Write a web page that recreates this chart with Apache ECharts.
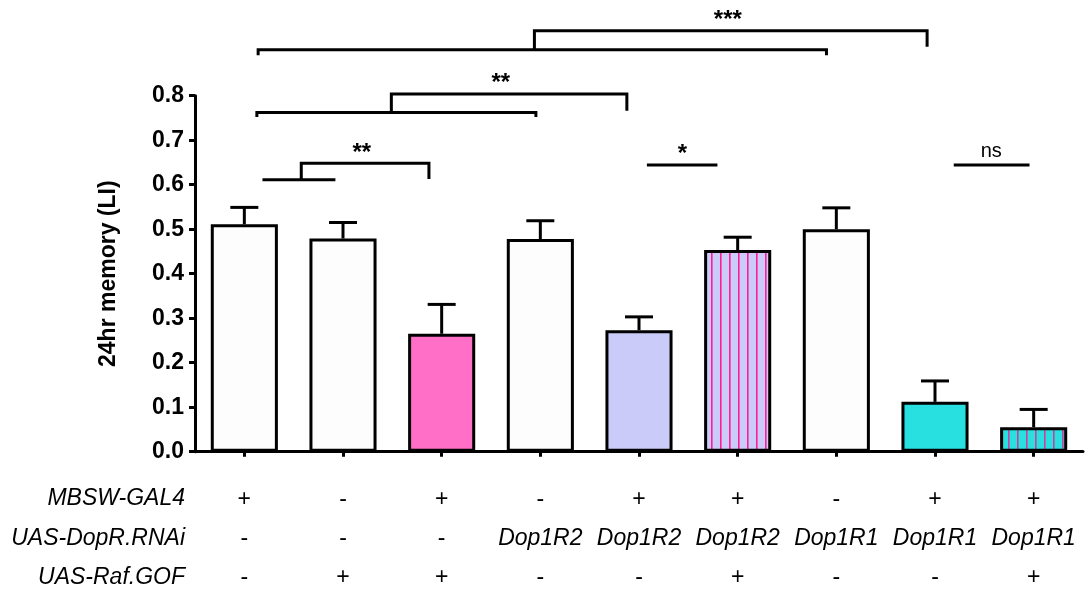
<!DOCTYPE html>
<html>
<head>
<meta charset="utf-8">
<script src="https://cdn.jsdelivr.net/npm/echarts@6/dist/echarts.min.js"></script>
<style>
html,body{margin:0;padding:0;background:#fff;}
#chart{width:1091px;height:593px;}
</style>
</head>
<body>
<div id="chart"></div>
<script>
// ---- data ----
var categories = ['G1','G2','G3','G4','G5','G6','G7','G8','G9'];
var means  = [0.511, 0.479, 0.265, 0.478, 0.273, 0.453, 0.500, 0.112, 0.055];
var sems   = [0.038, 0.036, 0.066, 0.041, 0.030, 0.029, 0.048, 0.047, 0.040];
var rowGal4 = ['+','-','+','-','+','+','-','+','+'];
var rowRnai = ['-','-','-','Dop1R2','Dop1R2','Dop1R2','Dop1R1','Dop1R1','Dop1R1'];
var rowRaf  = ['-','+','+','-','-','+','-','-','+'];
var rowNames = ['MBSW-GAL4','UAS-DopR.RNAi','UAS-Raf.GOF'];
var yTicks = [0,0.1,0.2,0.3,0.4,0.5,0.6,0.7,0.8];
// significance brackets: polylines in (category index, value) units
var brackets = [
  [[0.14,0.891],[0.14,0.903],[5.90,0.903],[5.90,0.891]],
  [[2.94,0.903],[2.94,0.946],[6.92,0.946],[6.92,0.910]],
  [[0.127,0.752],[0.127,0.762],[2.955,0.762],[2.955,0.752]],
  [[1.49,0.762],[1.49,0.804],[3.877,0.804],[3.877,0.766]],
  [[0.184,0.611],[0.923,0.611]],
  [[0.577,0.611],[0.577,0.648],[1.871,0.648],[1.871,0.613]],
  [[4.08,0.644],[4.795,0.644]],
  [[7.19,0.644],[7.958,0.644]]
];
var sigLabels = [
  {x:4.90, y:0.970, t:'***'},
  {x:2.60, y:0.827, t:'**'},
  {x:1.19, y:0.670, t:'**'},
  {x:4.44, y:0.668, t:'*'},
  {x:7.57, y:0.675, t:'ns'}
];

// ---- styles ----
function stripe(bg, line){
  var c = document.createElement('canvas');
  c.width = 9; c.height = 4;
  var g = c.getContext('2d');
  g.fillStyle = bg; g.fillRect(0,0,9,4);
  g.fillStyle = line; g.fillRect(0,0,1.6,4);
  return {image:c, repeat:'repeat'};
}
var fills = ['#fdfdfd','#fdfdfd','#ff6ec7','#fdfdfd','#cbcbf9', stripe('#cbcbf9','#ff1e96'), '#fdfdfd','#29e0e0', stripe('#29e0e0','#d0409a')];

var chart = echarts.init(document.getElementById('chart'));
var FONT = 'Liberation Sans, Arial, Helvetica, sans-serif';

chart.setOption({
  animation:false,
  backgroundColor:'#fff',
  grid:{left:195, right:8, top:95.7, bottom:141.3},
  xAxis:[{
    type:'category', data:categories,
    axisLine:{lineStyle:{color:'#000', width:3}},
    axisTick:{show:true, alignWithLabel:true, length:5, lineStyle:{color:'#000', width:3}},
    axisLabel:{
      interval:0, margin:28, fontFamily:FONT,
      formatter:function(v, i){
        var r = rowRnai[i];
        var mid = (r.length > 1) ? '{it|' + r + '}' : '{pm|' + r + '}';
        return '{pm|' + rowGal4[i] + '}\n' + mid + '\n{pm|' + rowRaf[i] + '}';
      },
      rich:{
        pm:{fontSize:23, fontFamily:FONT, color:'#000', lineHeight:39.3},
        it:{fontSize:23, fontFamily:FONT, fontStyle:'italic', color:'#000', lineHeight:39.3}
      }
    }
  },{
    type:'value', min:-0.5, max:8.5, show:false
  }],
  yAxis:{
    type:'value', min:0, max:0.8, interval:0.1,
    splitLine:{show:false},
    axisLine:{show:true, onZero:false, lineStyle:{color:'#000', width:3}},
    axisTick:{show:true, length:6, lineStyle:{color:'#000', width:3}},
    axisLabel:{color:'#000', fontSize:23, fontWeight:'bold', fontFamily:FONT, margin:11,
      formatter:function(v){ return v.toFixed(1); }},
    name:'24hr memory (LI)', nameLocation:'middle', nameRotate:90, nameGap:75,
    nameTextStyle:{color:'#000', fontSize:23, fontWeight:'bold', fontFamily:FONT}
  },
  graphic: rowNames.map(function(n, k){
    return {type:'text', x:185, y:499 + k*39.3,
      style:{text:n, fill:'#000', font:'italic 23px ' + FONT, textAlign:'right', textVerticalAlign:'middle'}};
  }),
  series:[{
    type:'bar', xAxisIndex:0, barWidth:'68%',
    data: means.map(function(v, i){
      return {value:v, itemStyle:{color:fills[i], borderColor:'#000', borderWidth:3}};
    }),
    z:2
  },{
    type:'custom', xAxisIndex:1, z:3, clip:false,
    data: means.map(function(v, i){ return [i, v, sems[i]]; }),
    renderItem:function(params, api){
      var x = api.value(0), m = api.value(1), e = api.value(2);
      var p0 = api.coord([x, m]);
      var p1 = api.coord([x, m + e]);
      var half = 14;
      var st = {stroke:'#000', lineWidth:3, fill:null};
      return {type:'group', children:[
        {type:'line', shape:{x1:p0[0], y1:p0[1], x2:p1[0], y2:p1[1]}, style:st},
        {type:'line', shape:{x1:p1[0]-half, y1:p1[1], x2:p1[0]+half, y2:p1[1]}, style:st}
      ]};
    }
  },{
    type:'custom', xAxisIndex:1, z:3, clip:false,
    data: brackets.map(function(b, i){ return [i]; }),
    renderItem:function(params, api){
      var b = brackets[params.dataIndex];
      var pts = b.map(function(p){ return api.coord(p); });
      return {type:'polyline', shape:{points:pts}, style:{stroke:'#000', lineWidth:3, fill:null}};
    }
  },{
    type:'custom', xAxisIndex:1, z:3, clip:false,
    data: sigLabels.map(function(s){ return [s.x, s.y]; }),
    renderItem:function(params, api){
      var s = sigLabels[params.dataIndex];
      var p = api.coord([s.x, s.y]);
      var isNs = s.t === 'ns';
      return {type:'text', x:p[0], y:p[1], style:{text:s.t, fill:'#000',
        font:(isNs ? 'normal 20px ' : 'bold 24px ') + FONT, textAlign:'center', textVerticalAlign:'middle'}};
    }
  }]
});
</script>
</body>
</html>
